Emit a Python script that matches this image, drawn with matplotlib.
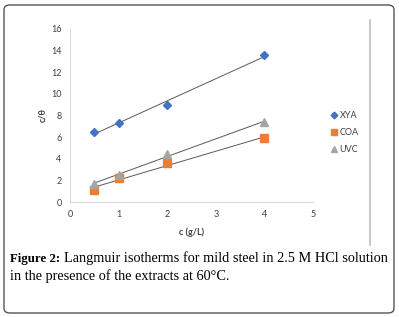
import matplotlib.pyplot as plt
import numpy as np
from matplotlib.patches import FancyBboxPatch

# data
conc = [0.5, 1, 2, 4]
xya = [6.5, 7.3, 9.0, 13.6]
coa = [1.1, 2.2, 3.6, 5.9]
uvc = [1.7, 2.5, 4.4, 7.4]
series_names = ["XYA", "COA", "UVC"]
x_ticks = [0, 1, 2, 3, 4, 5]
y_ticks = [0, 2, 4, 6, 8, 10, 12, 14, 16]

W, H = 399, 317
fig = plt.figure(figsize=(W / 100, H / 100), dpi=100)
fig.patch.set_facecolor("white")

# outer rounded frame
frame = FancyBboxPatch((4 / W, 4 / H), 390 / W, 308 / H,
                       boxstyle="round,pad=0,rounding_size=0.015",
                       transform=fig.transFigure, fill=False,
                       edgecolor="#555555", lw=1.0)
fig.patches.append(frame)

# vertical gray line at the right of the chart
fig.add_artist(plt.Line2D([370 / W, 370 / W], [1 - 20 / H, 1 - 245 / H],
                          transform=fig.transFigure, color="#bfbfbf", lw=1.2))

ax = fig.add_axes([70 / W, 1 - 202 / H, 243 / W, 173 / H])

styles = [("D", "#4472C4", 4.5), ("s", "#ED7D31", 5.5), ("^", "#A5A5A5", 6)]
for vals, name, (mk, col, ms) in zip([xya, coa, uvc], series_names, styles):
    k, b = np.polyfit(conc, vals, 1)
    xs = np.array([conc[0], conc[-1]])
    ax.plot(xs, k * xs + b, color="#595959", lw=0.7, zorder=2)
    ax.plot(conc, vals, linestyle="none", marker=mk, color=col, ms=ms,
            label=name, zorder=3)

ax.set_xlim(0, 5)
ax.set_ylim(0, 16)
ax.set_xticks(x_ticks)
ax.set_yticks(y_ticks)
for s in ["top", "right"]:
    ax.spines[s].set_visible(False)
for s in ["left", "bottom"]:
    ax.spines[s].set_color("#d9d9d9")
    ax.spines[s].set_linewidth(0.8)
ax.tick_params(length=0, labelsize=6.5, labelcolor="#404040", pad=6)
for lab in ax.get_xticklabels() + ax.get_yticklabels():
    lab.set_family("Lato")

ax.set_xlabel("c (g/L)", fontsize=6.5, family="Lato", fontweight="bold",
              color="#404040", labelpad=6)
ax.set_ylabel("c/θ", fontsize=6.5, family="Lato", fontweight="bold",
              color="#404040", labelpad=3)

leg = ax.legend(loc="center left", bbox_to_anchor=(1.035, 0.40), frameon=False,
                prop={"family": "Lato", "size": 6.5}, handletextpad=0.1,
                handlelength=1.0, labelspacing=0.9, markerscale=0.75)
for t in leg.get_texts():
    t.set_color("#404040")

# caption: bold lead-in, then the rest placed right after it
cap_size = 10.3
lead = fig.text(10 / W, 1 - 262 / H, "Figure 2:", fontsize=9.3,
                family="Liberation Serif", fontweight="bold", va="baseline")
fig.canvas.draw()
bb = lead.get_window_extent()
fig.text((bb.x1 + 4) / W, 1 - 262 / H,
         "Langmuir isotherms for mild steel in 2.5 M HCl solution",
         fontsize=cap_size, family="Liberation Serif", va="baseline")
fig.text(10 / W, 1 - 280 / H, "in the presence of the extracts at 60°C.",
         fontsize=cap_size, family="Liberation Serif", va="baseline")

fig.savefig("out.png", dpi=100)
